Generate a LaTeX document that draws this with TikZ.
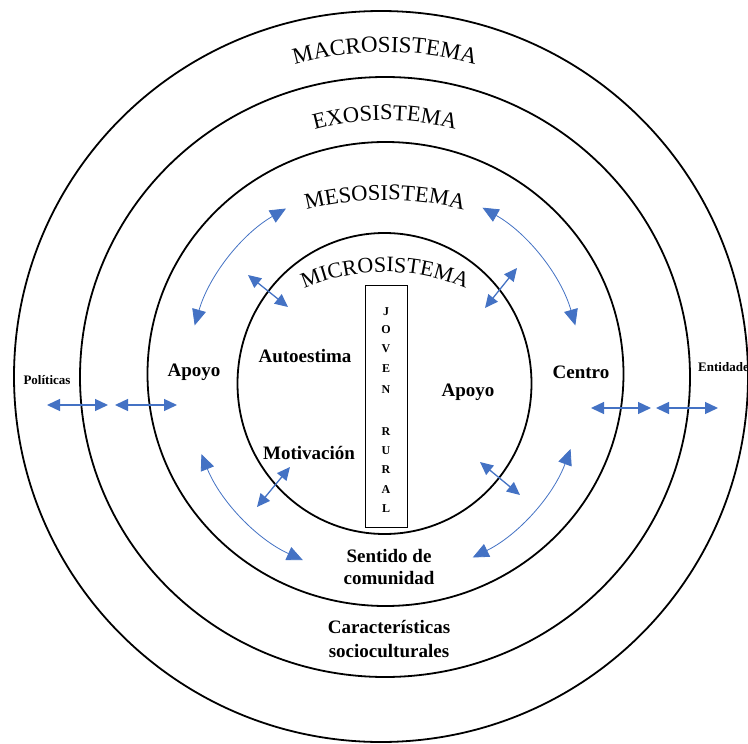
\documentclass[tikz,border=0pt]{standalone}
\usepackage{fontspec}
\setmainfont{Liberation Serif}
\usetikzlibrary{arrows.meta,decorations.text,calc}
\definecolor{arrowblue}{RGB}{68,114,196}
\newcommand{\arclabel}[5]{%
  \path[decorate,decoration={text along path,text align=center,text color=black,
    text={|\fontsize{#4}{#4}\selectfont|#5}}]
    ([shift={(225:#3)}]#1,#2) arc[start angle=225,end angle=315,radius=#3];
}
\begin{document}
\begin{tikzpicture}[x=1pt,y=-1pt,
  ring/.style={draw=black,line width=1.8pt},
  lbl/.style={font=\fontsize{19}{23}\selectfont\bfseries,align=center,inner sep=0pt},
  smalllbl/.style={font=\fontsize{13}{15}\selectfont\bfseries,inner sep=0pt},
  letter/.style={font=\fontsize{12}{13}\selectfont\bfseries,inner sep=0pt},
  link/.style={draw=arrowblue,line width=1.3pt,{Triangle[length=13pt,width=12pt]}-{Triangle[length=13pt,width=12pt]}},
  curvelink/.style={draw=arrowblue,line width=0.8pt,{Triangle[length=16pt,width=14pt]}-{Triangle[length=16pt,width=14pt]}},
]
\useasboundingbox (0,0) rectangle (748,744);
\fill[white] (0,0) rectangle (748,744);

% rings
\draw[ring] (381,376.5) ellipse [x radius=367, y radius=365.5];
\draw[ring] (385,377) ellipse [x radius=305, y radius=300];
\draw[ring] (385.5,374) ellipse [x radius=238, y radius=232];
\draw[ring] (384.5,383.5) ellipse [x radius=147, y radius=150.5];

% arched titles
\arclabel{385}{382}{330}{23}{MACROSISTEMA}
\arclabel{385}{384}{264}{22.5}{EXOSISTEMA}
\arclabel{385}{520}{320}{22.5}{MESOSISTEMA}
\arclabel{385}{474}{202}{22}{MICROSISTEMA}

% central box
\node[draw,line width=0.8pt,minimum width=42pt,minimum height=242pt,inner sep=0pt] (box) at (386,406) {};
\node[letter] (j1) at (386,312) {J};
\node[letter] (j2) at (386,330) {O};
\node[letter] (j3) at (386,349) {V};
\node[letter] (j4) at (386,369) {E};
\node[letter] (j5) at (386,390) {N};
\node[letter] (r1) at (386,432) {R};
\node[letter] (r2) at (386,451) {U};
\node[letter] (r3) at (386,470) {R};
\node[letter] (r4) at (386,490) {A};
\node[letter] (r5) at (386,509) {L};

% labels
\node[lbl] (apoyoL) at (194,372) {Apoyo};
\node[lbl] (auto) at (305,356) {Autoestima};
\node[lbl] (moti) at (309,453) {Motivación};
\node[lbl] (apoyoR) at (468,392) {Apoyo};
\node[lbl] (centro) at (581,372) {Centro};
\node[lbl,font=\fontsize{19}{22}\selectfont\bfseries] (sentido) at (389,567) {Sentido de\\comunidad};
\node[lbl,font=\fontsize{19}{24}\selectfont\bfseries] (carac) at (389,639) {Características\\socioculturales};
\node[smalllbl] (pol) at (47,380) {Políticas};
\node[smalllbl,anchor=west] (ent) at (698,367) {Entidades};

% straight arrows
\coordinate (p1) at (47,405);  \coordinate (p2) at (108,405);
\coordinate (p3) at (115,405); \coordinate (p4) at (177,405);
\coordinate (c1) at (591,408); \coordinate (c2) at (651,408);
\coordinate (c3) at (656,408); \coordinate (c4) at (718,408);
\draw[link] (p1) -- (p2);
\draw[link] (p3) -- (p4);
\draw[link] (c1) -- (c2);
\draw[link] (c3) -- (c4);

% short diagonal arrows
\coordinate (d1a) at (248,275); \coordinate (d1b) at (288,307);
\coordinate (d2a) at (517,268); \coordinate (d2b) at (485,308);
\coordinate (d3a) at (290,467); \coordinate (d3b) at (257,507);
\coordinate (d4a) at (480,462); \coordinate (d4b) at (520,495);
\draw[link] (d1a) -- (d1b);
\draw[link] (d2a) -- (d2b);
\draw[link] (d3a) -- (d3b);
\draw[link] (d4a) -- (d4b);

% curved arrows
\coordinate (tl) at ([shift={(240:198)}]385,380);
\coordinate (tr) at ([shift={(299.5:198)}]385,380);
\coordinate (bl) at ([shift={(158:198)}]385,380);
\coordinate (br) at ([shift={(63.7:198)}]385,380);
\draw[curvelink] (tl) arc[start angle=240,end angle=196,radius=198];
\draw[curvelink] (tr) arc[start angle=299.5,end angle=344,radius=198];
\draw[curvelink] (bl) arc[start angle=158,end angle=114.5,radius=198];
\draw[curvelink] (br) arc[start angle=63.7,end angle=20.4,radius=198];
\end{tikzpicture}
\end{document}
